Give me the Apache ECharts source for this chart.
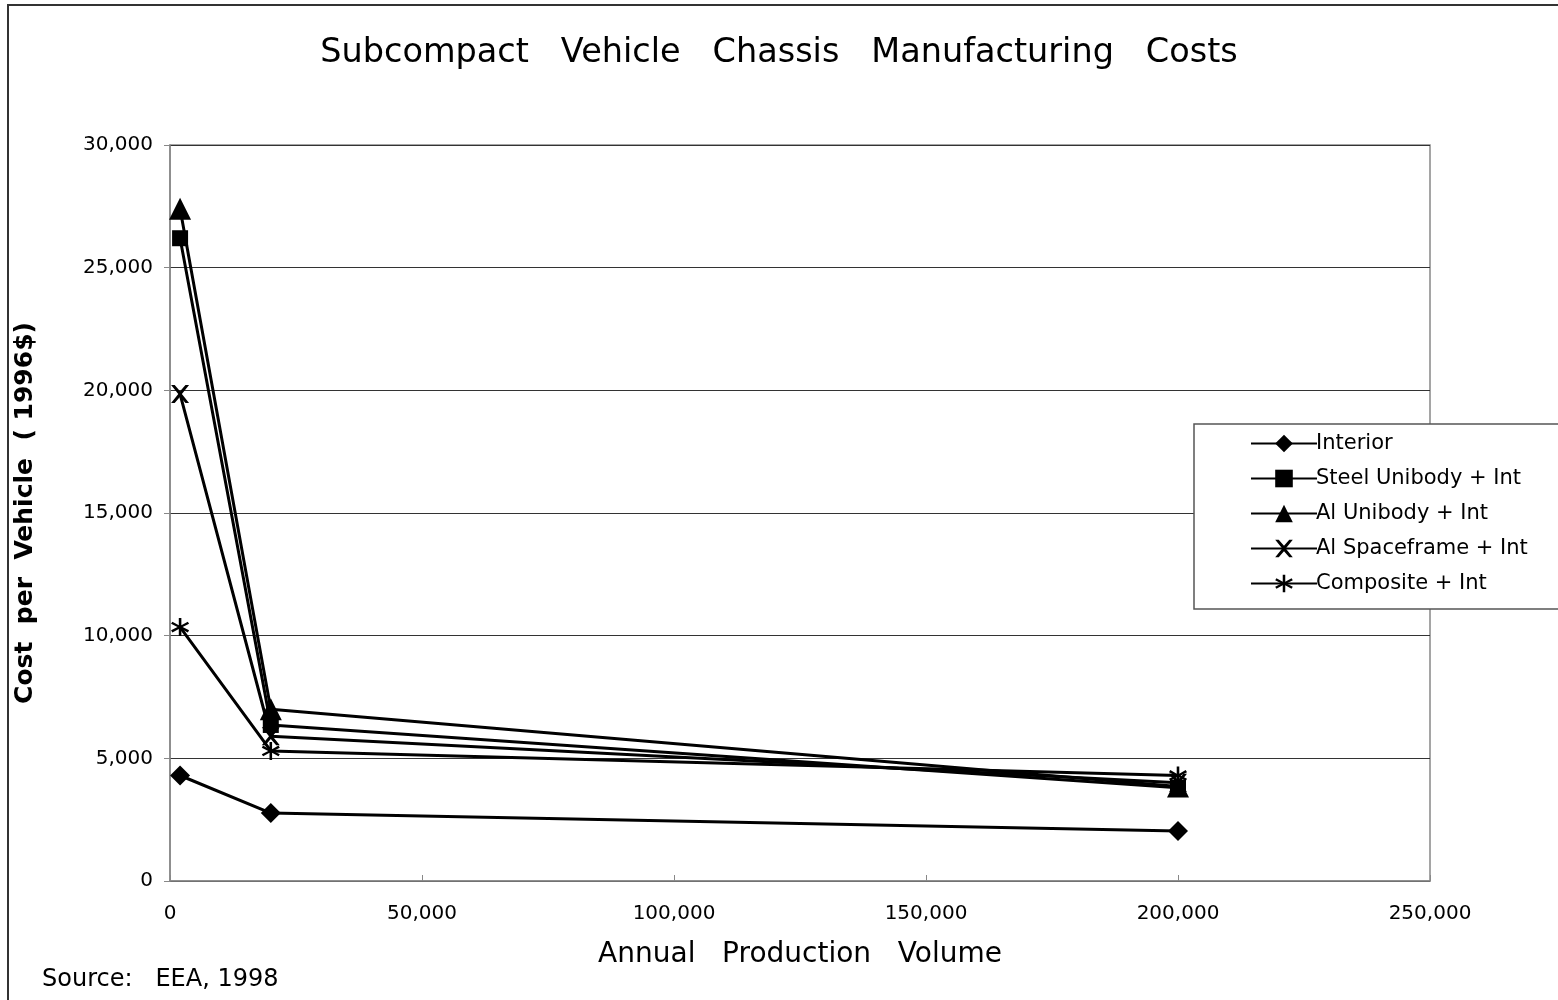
<!DOCTYPE html>
<html>
<head>
<meta charset="utf-8">
<script src="https://cdn.jsdelivr.net/npm/echarts@6/dist/echarts.min.js"></script>
<style>html,body{margin:0;padding:0;background:#fff}#c{width:1558px;height:1000px}</style>
</head>
<body>
<div id="c"></div>
<script>
const volumes = [2000, 20000, 200000];
const seriesNames = ['Interior', 'Steel Unibody + Int', 'Al Unibody + Int', 'Al Spaceframe + Int', 'Composite + Int'];
const interior = [4300, 2770, 2040];
const steelUnibody = [26200, 6360, 3800];
const alUnibody = [27400, 7000, 3850];
const alSpaceframe = [19850, 5900, 4000];
const composite = [10350, 5300, 4300];

const xMark = 'path://M0,0 L2,0 L5,3.5 L8,0 L10,0 L6,5 L10,10 L8,10 L5,6.5 L2,10 L0,10 L4,5 Z';
const starMark = 'path://M4.3,0 L5.7,0 L5.7,4 L9.2,2 L9.9,3.2 L6.4,5 L9.9,6.8 L9.2,8 L5.7,6 L5.7,10 L4.3,10 L4.3,6 L0.8,8 L0.1,6.8 L3.6,5 L0.1,3.2 L0.8,2 L4.3,4 Z';
const symbols = ['diamond', 'rect', 'triangle', xMark, starMark];
const sizes = [20, 16, 22, 18, 18];
const dataSets = [interior, steelUnibody, alUnibody, alSpaceframe, composite];

const fmt = v => v.toString().replace(/\B(?=(\d{3})+(?!\d))/g, ',');

const chart = echarts.init(document.getElementById('c'));
chart.setOption({
  backgroundColor: '#fff',
  animation: false,
  title: {
    text: 'Subcompact   Vehicle   Chassis   Manufacturing   Costs',
    left: 'center', top: 31,
    textStyle: {fontFamily: 'DejaVu Sans', fontSize: 33.5, fontWeight: 'normal', color: '#000'}
  },
  graphic: [
    {type: 'rect', shape: {x: 8, y: 5, width: 1600, height: 1100}, style: {fill: 'none', stroke: '#333', lineWidth: 2}, silent: true},
    {type: 'rect', z: 5, shape: {x: 1194, y: 424, width: 400, height: 185}, style: {fill: '#fff', stroke: '#555', lineWidth: 1.5}},
    {type: 'text', left: 42, top: 968, style: {text: 'Source:   EEA, 1998', fontFamily: 'DejaVu Sans', fontSize: 24, fill: '#000'}}
  ],
  legend: {
    orient: 'vertical', left: 1245, top: 428, z: 10,
    itemWidth: 66, itemHeight: 22, itemGap: 14,
    textStyle: {fontFamily: 'DejaVu Sans', fontSize: 21, color: '#000', padding: [0, 0, 0, -6]},
    data: seriesNames
  },
  grid: {left: 170, right: 128, top: 145, bottom: 119, show: true, borderColor: '#888', borderWidth: 1.5},
  xAxis: {
    type: 'value', min: 0, max: 250000, interval: 50000,
    name: 'Annual   Production   Volume', nameLocation: 'middle', nameGap: 60,
    nameTextStyle: {fontFamily: 'DejaVu Sans', fontSize: 28, fontWeight: 500, color: '#000'},
    axisLine: {show: true, lineStyle: {color: '#888', width: 1.5}},
    axisTick: {show: true, inside: true, length: 6, lineStyle: {color: '#888'}},
    splitLine: {show: false},
    axisLabel: {formatter: fmt, fontFamily: 'DejaVu Sans', fontSize: 20, color: '#000', margin: 23}
  },
  yAxis: {
    type: 'value', min: 0, max: 30000, interval: 5000,
    name: 'Cost  per  Vehicle  ( 1996$)', nameLocation: 'middle', nameGap: 132,
    nameTextStyle: {fontFamily: 'DejaVu Sans', fontSize: 25, fontWeight: 'bold', color: '#000'},
    axisLine: {show: true, lineStyle: {color: '#888', width: 1.5}},
    axisTick: {show: true, length: 6, lineStyle: {color: '#888'}},
    splitLine: {show: true, lineStyle: {color: '#333', width: 1}},
    axisLabel: {formatter: fmt, fontFamily: 'DejaVu Sans', fontSize: 20, color: '#000', margin: 17}
  },
  series: seriesNames.map((n, i) => ({
    name: n, type: 'line',
    data: volumes.map((v, j) => [v, dataSets[i][j]]),
    symbol: symbols[i], symbolSize: sizes[i], showSymbol: true,
    lineStyle: {color: '#000', width: 3},
    itemStyle: {color: '#000', borderColor: '#000', borderWidth: 0},
    z: 3
  }))
});
</script>
</body>
</html>
